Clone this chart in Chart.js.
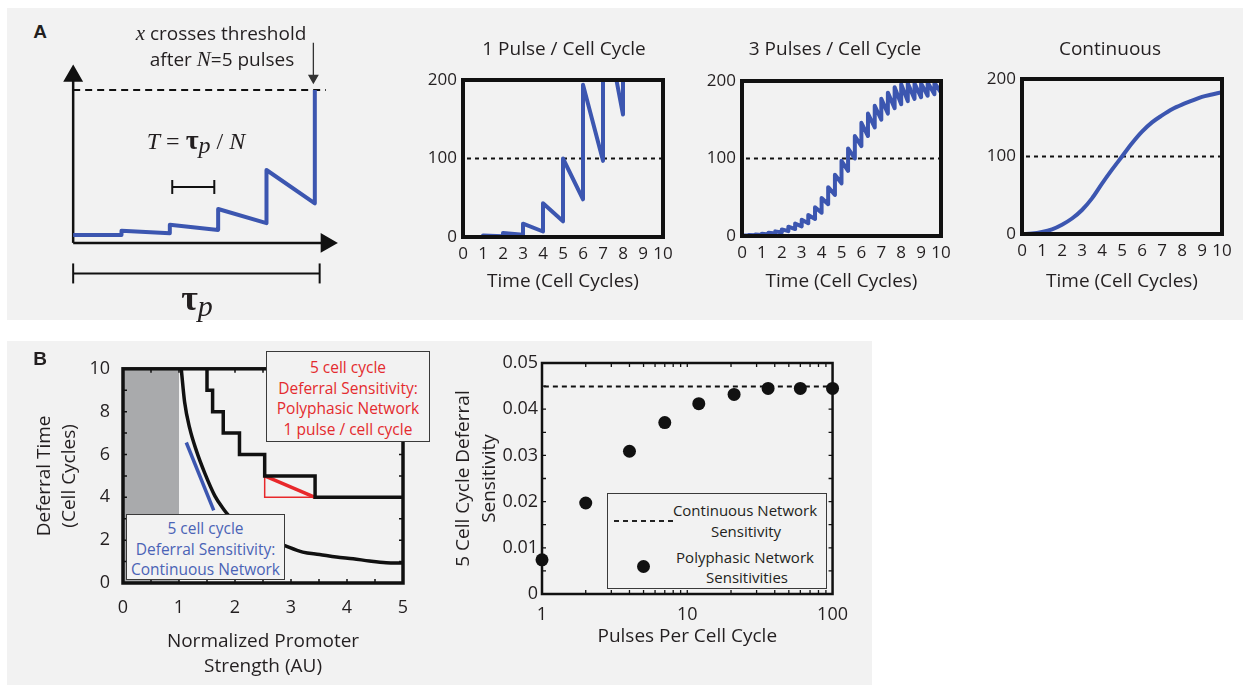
<!DOCTYPE html>
<html>
<head>
<meta charset="utf-8">
<script src="https://cdn.jsdelivr.net/npm/chart.js@4.4.1/dist/chart.umd.min.js"></script>
<style>
body{margin:0;width:1244px;height:685px;overflow:hidden;background:#fff;font-family:"Open Sans",sans-serif;color:#231f20;position:relative}
.panel{position:absolute;background:#f2f2f2}
canvas{position:absolute}
.t{position:absolute;white-space:nowrap;line-height:1;transform:translate(-50%,-50%)}
.serif{font-family:"Liberation Serif","DejaVu Serif",serif}
.box{position:absolute;border:1.5px solid #3a3a3a;background:#f2f2f2;box-sizing:border-box;text-align:center;font-size:15.5px;line-height:20.5px}
</style>
</head>
<body>
<div class="panel" style="left:7px;top:8px;width:1236px;height:312px"></div>
<div class="panel" style="left:7px;top:341px;width:865px;height:344px"></div>

<canvas id="schem" width="304" height="275" style="left:49px;top:29px"></canvas>
<canvas id="onePulse" width="312" height="270" style="left:408px;top:30px"></canvas>
<canvas id="threePulse" width="296" height="270" style="left:687px;top:30px"></canvas>
<canvas id="continuous" width="286" height="270" style="left:967px;top:30px"></canvas>
<canvas id="deferral" width="393" height="340" style="left:30px;top:345px"></canvas>
<canvas id="sensitivity" width="408" height="340" style="left:450px;top:345px"></canvas>

<div class="t" style="left:40px;top:32px;font:bold 19px 'Liberation Sans',Arial,sans-serif">A</div>
<div class="t" style="left:40px;top:359px;font:bold 19px 'Liberation Sans',Arial,sans-serif">B</div>

<div class="t" style="left:221px;top:33px;font-size:19px"><i class="serif" style="font-size:21px">x</i> crosses threshold</div>
<div class="t" style="left:222px;top:59px;font-size:19px">after <i class="serif" style="font-size:21px">N</i>=5 pulses</div>
<div class="t serif" style="left:196px;top:140px;font-size:24px"><i>T</i> = <b style="font-size:28px">τ</b><i style="position:relative;top:4px">p</i> / <i>N</i></div>
<div class="t serif" style="left:197px;top:298px;font-size:30px"><b style="font-size:36px">τ</b><i style="position:relative;top:6px">p</i></div>

<div class="box" style="left:266px;top:351px;width:164px;height:91px;padding-top:5px;color:#e42b2e">5 cell cycle<br>Deferral Sensitivity:<br>Polyphasic Network<br>1 pulse / cell cycle</div>
<div class="box" style="left:126px;top:514px;width:159px;height:66px;padding-top:3px;color:#4a63b6">5 cell cycle<br>Deferral Sensitivity:<br>Continuous Network</div>

<div class="box" style="left:607px;top:493px;width:220px;height:96px;font-size:15px">
  <div style="position:absolute;left:6px;top:26px;width:61px;height:2px;background:repeating-linear-gradient(90deg,#222 0 5px,transparent 5px 9px)"></div>
  <div class="t" style="left:137px;top:16px">Continuous Network</div>
  <div class="t" style="left:138px;top:37px">Sensitivity</div>
  <div style="position:absolute;left:29px;top:66px;width:13px;height:13px;border-radius:50%;background:#111"></div>
  <div class="t" style="left:137px;top:63px">Polyphasic Network</div>
  <div class="t" style="left:139px;top:83px">Sensitivities</div>
</div>

<script>
// ---- panel A : schematic ----
const schemTime = [0, 1, 1, 2, 2, 3, 3, 4, 4, 5, 5];
const schemLevel = [0.52, 0.52, 0.8, 0.63, 1.18, 0.85, 2.22, 1.29, 4.77, 2.59, 10];
const schemThreshold = 10;

// ---- panel A : 1 pulse / cell cycle ----
const onePulseTime = [0, 1, 1, 2, 2, 3, 3, 4, 4, 5, 5, 6, 6, 7, 7, 8, 8];
const onePulseLevel = [0, 0, 2, 1, 5, 3, 17, 7, 43, 20, 100, 48, 194, 97, 290, 156, 330];

// ---- panel A : 3 pulses / cell cycle (level just before and just after each pulse) ----
const threePulseTime = [0, 0.33, 0.67, 1, 1.33, 1.67, 2, 2.33, 2.67, 3, 3.33, 3.67, 4, 4.33, 4.67, 5,
  5.33, 5.67, 6, 6.33, 6.67, 7, 7.33, 7.67, 8, 8.33, 8.67, 9, 9.33, 9.67, 10];
const threePulseLow = [0, 0.5, 0.9, 1.4, 2.1, 3.1, 4.5, 6.3, 9, 12.5, 16.5, 22, 30, 41, 53, 68,
  84, 100, 116, 129, 140, 150, 158, 165, 170, 174, 177, 179, 181, 183, 185];
const threePulseHigh = [0.8, 1.3, 2, 3, 4.3, 6, 8.5, 12, 16, 21, 27, 37, 49, 63, 79, 97,
  113, 129, 146, 158, 168, 177, 185, 192, 196, 197, 197, 197, 198, 198, 199];

// ---- panel A : continuous ----
const contTime = [0, 0.5, 1, 1.5, 2, 2.5, 3, 3.5, 4, 4.5, 5, 5.5, 6, 6.5, 7, 7.5, 8, 8.5, 9, 9.5, 10];
const contLevel = [0, 0.5, 2.5, 6, 12, 20, 31, 46, 65, 83, 100, 117, 132, 144, 153, 161, 167, 172, 177, 180, 183];

const threshold = 100;

// ---- panel B : deferral time vs promoter strength ----
const greyStrength = [0, 1];
const contStrength = [1.04, 1.1, 1.19, 1.31, 1.46, 1.64, 1.79, 1.9, 2.2, 2.5, 2.89, 3.21, 3.51, 3.81, 4.11, 4.4, 4.7, 5];
const contDeferral = [10, 8.45, 7.24, 6.18, 5.13, 4.07, 3.47, 3.12, 2.6, 2.15, 1.74, 1.44, 1.33, 1.21, 1.13, 1.03, 0.95, 0.93];
const stepStrength = [1.5, 1.5, 1.6, 1.79, 2.08, 2.53, 3.43, 5];
const stepDeferral = [10, 9, 8, 7, 6, 5, 4, 4];
const tangentStrength = [1.13, 1.62];
const tangentDeferral = [6.56, 3.39];

// ---- panel B : sensitivity vs pulses per cell cycle ----
const pulsesPerCycle = [1, 2, 4, 7, 12, 21, 36, 60, 100];
const polySensitivity = [0.0074, 0.0197, 0.0309, 0.0371, 0.0412, 0.0432, 0.0445, 0.0445, 0.0445];
const contSensitivity = 0.0449;

const BLUE = '#3c56b0';
const RED = '#e8282b';
const INK = '#111';

Chart.defaults.font.family = "'Open Sans', sans-serif";
Chart.defaults.color = '#231f20';

function pts(xs, ys){
  return xs.map((x, i) => ({x: x, y: ys[i]}));
}

// box around the plot plus small inward ticks
const framePlugin = {
  id: 'frame',
  afterDatasetsDraw(chart, args, opts){
    if(!opts || !opts.width) return;
    const ctx = chart.ctx, a = chart.chartArea;
    const sx = chart.scales.x, sy = chart.scales.y;
    ctx.save();
    ctx.strokeStyle = INK;
    ctx.lineWidth = opts.tickWidth || 1.5;
    const len = opts.tickLen || 4;
    ctx.beginPath();
    (opts.xTicks || []).forEach(v => {
      const px = sx.getPixelForValue(v);
      ctx.moveTo(px, a.bottom); ctx.lineTo(px, a.bottom - len);
      ctx.moveTo(px, a.top); ctx.lineTo(px, a.top + len);
    });
    (opts.yTicks || []).forEach(v => {
      const py = sy.getPixelForValue(v);
      ctx.moveTo(a.left, py); ctx.lineTo(a.left + len, py);
      ctx.moveTo(a.right, py); ctx.lineTo(a.right - len, py);
    });
    ctx.stroke();
    ctx.lineWidth = opts.width;
    ctx.strokeRect(a.left, a.top, a.right - a.left, a.bottom - a.top);
    ctx.restore();
  }
};
Chart.register(framePlugin);

const common = {
  responsive: false,
  animation: false,
  events: [],
  plugins: { legend: { display: false }, tooltip: { enabled: false } }
};

// ---------- schematic ----------
new Chart(document.getElementById('schem'), {
  type: 'line',
  data: {
    datasets: [
      { data: pts(schemTime, schemLevel), borderColor: BLUE, borderWidth: 4, pointRadius: 0, borderJoinStyle: 'round' },
      { data: pts([0, 5.23], [schemThreshold, schemThreshold]), borderColor: INK, borderWidth: 2, borderDash: [7, 5], pointRadius: 0 },
      { data: pts([0, 5.24], [0, 0]), borderColor: INK, borderWidth: 2.5, pointStyle: 'triangle', pointRotation: 90,
        pointRadius: [0, 9], pointBackgroundColor: INK, pointBorderColor: INK },
      { data: pts([0, 0], [0, 10.93]), borderColor: INK, borderWidth: 2.5, pointStyle: 'triangle', pointRotation: 0,
        pointRadius: [0, 9], pointBackgroundColor: INK, pointBorderColor: INK },
      { data: pts([0, 5.1], [-2, -2]), borderColor: INK, borderWidth: 2, pointStyle: 'line', pointRotation: 90,
        pointRadius: 10, pointBorderWidth: 2, pointBorderColor: INK },
      { data: pts([2.05, 2.92], [3.66, 3.66]), borderColor: INK, borderWidth: 2, pointStyle: 'line', pointRotation: 90,
        pointRadius: 7, pointBorderWidth: 2, pointBorderColor: INK },
      { data: pts([4.97, 4.97], [13.1, 10.8]), borderColor: '#333', borderWidth: 1.3, pointStyle: 'triangle', pointRotation: 180,
        pointRadius: [0, 5], pointBackgroundColor: '#333', pointBorderColor: '#333' }
    ]
  },
  options: Object.assign({}, common, {
    layout: { padding: 0, autoPadding: false },
    scales: {
      x: { type: 'linear', display: false, min: -0.5, max: 5.79 },
      y: { display: false, min: -4, max: 14 }
    }
  })
});

// ---------- time course charts ----------
// rightGap: empty room right of the plot so the title sits over the plot
function timeChart(id, title, lineData, top, bottom, rightGap, lineOpts){
  const canvasTop = 30, canvasH = 270;
  const titlePadTop = 8.6;
  const titleLine = 19 * 1.2;
  return new Chart(document.getElementById(id), {
    type: 'line',
    data: {
      datasets: [
        Object.assign({ data: lineData, borderColor: BLUE, borderWidth: 4, pointRadius: 0,
          borderJoinStyle: 'round', borderCapStyle: 'round' }, lineOpts || {}),
        { data: pts([0.2, 10], [threshold, threshold]), borderColor: INK, borderWidth: 2, borderDash: [4, 4], pointRadius: 0 }
      ]
    },
    options: Object.assign({}, common, {
      layout: { padding: 0, autoPadding: false },
      plugins: {
        legend: { display: false }, tooltip: { enabled: false },
        title: { display: true, text: title, font: { size: 19, weight: 'normal' },
          padding: { top: titlePadTop, bottom: top - canvasTop - titlePadTop - titleLine } },
        frame: { width: 4 }
      },
      scales: {
        x: {
          type: 'linear', min: 0, max: 10,
          grid: { display: false, drawTicks: false }, border: { display: false },
          ticks: { stepSize: 1, autoSkip: false, maxRotation: 0, padding: 7, font: { size: 17 } },
          title: { display: true, text: 'Time (Cell Cycles)', font: { size: 19 }, padding: { top: 0, bottom: 6.6 } },
          afterFit: s => { s.height = canvasTop + canvasH - bottom; }
        },
        y: {
          min: 0, max: 200,
          grid: { display: false, drawTicks: false }, border: { display: false },
          ticks: { stepSize: 100, padding: 6, font: { size: 17 } },
          afterFit: s => { s.width = 55; }
        },
        gap: {
          position: 'right', display: true,
          grid: { display: false, drawTicks: false }, border: { display: false },
          ticks: { display: false },
          afterFit: s => { s.width = rightGap; }
        }
      }
    })
  });
}

timeChart('onePulse', '1 Pulse / Cell Cycle', pts(onePulseTime, onePulseLevel), 80, 237, 57);

let threePts = [];
threePulseTime.forEach((t, i) => {
  threePts.push({x: t, y: threePulseLow[i]});
  threePts.push({x: t, y: threePulseHigh[i]});
});
timeChart('threePulse', '3 Pulses / Cell Cycle', threePts, 81, 236, 42);

timeChart('continuous', 'Continuous', pts(contTime, contLevel), 79, 234, 31, { cubicInterpolationMode: 'monotone' });

// ---------- panel B left ----------
new Chart(document.getElementById('deferral'), {
  type: 'line',
  data: {
    datasets: [
      { data: pts(greyStrength, [10, 10]), borderWidth: 0, pointRadius: 0, fill: 'origin', backgroundColor: '#a9aaac' },
      { data: pts(contStrength, contDeferral), borderColor: INK, borderWidth: 3.5, pointRadius: 0, cubicInterpolationMode: 'monotone' },
      { data: pts(stepStrength, stepDeferral), borderColor: INK, borderWidth: 3.5, pointRadius: 0, stepped: 'before' },
      { data: pts([stepStrength[5], stepStrength[5], stepStrength[6]], [stepDeferral[5], stepDeferral[6], stepDeferral[6]]),
        borderColor: RED, borderWidth: 1.5, pointRadius: 0 },
      { data: pts([stepStrength[5], stepStrength[6]], [stepDeferral[5], stepDeferral[6]]), borderColor: RED, borderWidth: 3.5, pointRadius: 0 },
      { data: pts(tangentStrength, tangentDeferral), borderColor: BLUE, borderWidth: 3.5, pointRadius: 0 }
    ]
  },
  options: Object.assign({}, common, {
    layout: { padding: { top: 17, right: 20 }, autoPadding: false },
    plugins: {
      legend: { display: false }, tooltip: { enabled: false },
      frame: { width: 3.5, tickLen: 4, xTicks: [0.5, 1, 1.5, 2, 2.5, 3, 3.5, 4, 4.5], yTicks: [1, 2, 3, 4, 5, 6, 7, 8, 9] }
    },
    scales: {
      x: {
        type: 'linear', min: 0, max: 5,
        grid: { display: false, drawTicks: false }, border: { display: false },
        ticks: { stepSize: 1, maxRotation: 0, padding: 14, font: { size: 18 } },
        title: { display: true, text: ['Normalized Promoter', 'Strength (AU)'], font: { size: 19, lineHeight: 1.32 }, padding: { top: 0, bottom: 5.5 } },
        afterFit: s => { s.height = 102; }
      },
      y: {
        min: 0, max: 10,
        grid: { display: false, drawTicks: false }, border: { display: false },
        ticks: { stepSize: 2, padding: 13, font: { size: 18 } },
        title: { display: true, text: ['Deferral Time', '(Cell Cycles)'], font: { size: 19, lineHeight: 1.3 }, padding: { top: 2.6, bottom: 0 } },
        afterFit: s => { s.width = 93; }
      }
    }
  })
});

// ---------- panel B right ----------
new Chart(document.getElementById('sensitivity'), {
  type: 'line',
  data: {
    datasets: [
      { data: pts([1.03, 100], [contSensitivity, contSensitivity]), borderColor: INK, borderWidth: 2, borderDash: [5, 4], pointRadius: 0 },
      { data: pts(pulsesPerCycle, polySensitivity), showLine: false, pointRadius: 6.5, pointBackgroundColor: INK,
        pointBorderColor: INK, pointBorderWidth: 0, clip: false }
    ]
  },
  options: Object.assign({}, common, {
    layout: { padding: { top: 18, right: 20 }, autoPadding: false },
    plugins: {
      legend: { display: false }, tooltip: { enabled: false },
      frame: { width: 2.5, tickLen: 4, tickWidth: 1.3,
        xTicks: [2, 3, 4, 5, 6, 7, 8, 9, 10, 20, 30, 40, 50, 60, 70, 80, 90],
        yTicks: [0.005, 0.01, 0.015, 0.02, 0.025, 0.03, 0.035, 0.04, 0.045] }
    },
    scales: {
      x: {
        type: 'logarithmic', min: 1, max: 100,
        grid: { display: false, drawTicks: false }, border: { display: false },
        ticks: { autoSkip: false, maxRotation: 0, padding: 10, font: { size: 18 },
          callback: v => {
            const l = Math.log10(v);
            return Math.abs(l - Math.round(l)) < 1e-6 ? String(Math.round(v)) : '';
          } },
        title: { display: true, text: 'Pulses Per Cell Cycle', font: { size: 19 }, padding: { top: 0, bottom: 36.6 } },
        afterFit: s => { s.height = 91; }
      },
      y: {
        min: 0, max: 0.05,
        grid: { display: false, drawTicks: false }, border: { display: false },
        ticks: { stepSize: 0.01, padding: 4, font: { size: 18 }, callback: v => String(Number(v.toFixed(2))) },
        title: { display: true, text: ['5 Cell Cycle Deferral', 'Sensitivity'], font: { size: 19, lineHeight: 1.4 }, padding: { top: 0, bottom: 0 } },
        afterFit: s => { s.width = 92; }
      }
    }
  })
});
</script>
</body>
</html>
